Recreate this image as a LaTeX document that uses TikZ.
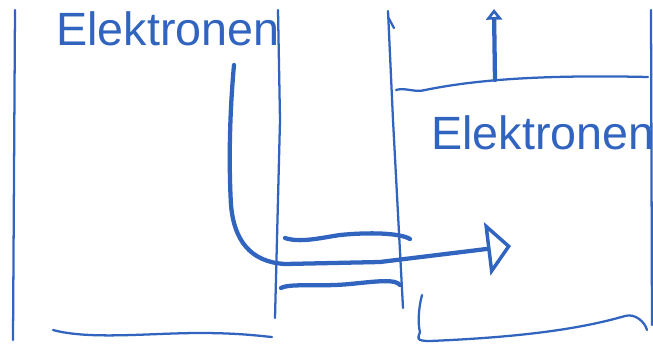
\documentclass[tikz,border=0pt]{standalone}
\usepackage{fontspec}
\setmainfont{Liberation Sans}
\usetikzlibrary{arrows.meta}

\definecolor{ink}{RGB}{48,100,190}

\begin{document}
\begin{tikzpicture}[
		x=0.75pt, y=-0.75pt,
		wall/.style={draw=ink, line width=1.7pt, line cap=round, line join=round},
		pen/.style={draw=ink, line width=3.2pt, line cap=round, line join=round},
		label/.style={text=ink, font=\fontsize{35}{40}\selectfont, inner sep=0pt, anchor=north west}
	]
	\useasboundingbox (0,0) rectangle (653,344);
	\clip (0,0) rectangle (653,344);

	% Nodes
	\node[label] (lefttext) at (56,11) {Elektronen};
	\node[label] (righttext) at (431,115) {Elektronen};

	\coordinate (start) at (234,65);
	\coordinate (end) at (511,246);
	\coordinate (upfoot) at (495,80);
	\coordinate (uptip) at (494,9);

	% Walls
	\draw[wall] (15,10) -- (13,340);
	\draw[wall] (278,10) -- (280,120) -- (275,318);
	\draw[wall] (53,330) .. controls (90,340) and (150,333) .. (200,333) .. controls (240,333) and (260,336) .. (272,337);
	\draw[wall] (388,11) -- (393,120) -- (403,308);
	\draw[wall] (388,17) -- (394,28);
	\draw[wall] (651,10) -- (652,325);
	\draw[wall] (396,90) .. controls (405,87) and (415,93) .. (425,90) .. controls (460,83) and (520,74) .. (648,77);
	\draw[wall] (422,295) .. controls (418,310) and (418,325) .. (420,332) .. controls (418,338) and (415,341) .. (430,341) .. controls (500,338) and (570,332) .. (625,316) .. controls (635,313) and (645,322) .. (647,330);

	% Gap lines
	\draw[pen] (285,238) .. controls (300,243) and (320,238) .. (340,235) .. controls (370,232) and (400,233) .. (410,239);
	\draw[pen] (281,288) .. controls (290,283) and (320,287) .. (350,284) .. controls (380,281) and (395,279) .. (400,285);

	% Arrows
	\draw[pen, -{Triangle[open, length=18pt, width=40pt, line width=2.6pt]}] (start) .. controls (229,120) and (229,170) .. (231,205) .. controls (234,240) and (250,262) .. (285,264) -- (380,262) -- (end);
	\draw[pen, -{Triangle[open, length=8pt, width=12pt, line width=2.6pt]}] (upfoot) -- (uptip);

\end{tikzpicture}
\end{document}
